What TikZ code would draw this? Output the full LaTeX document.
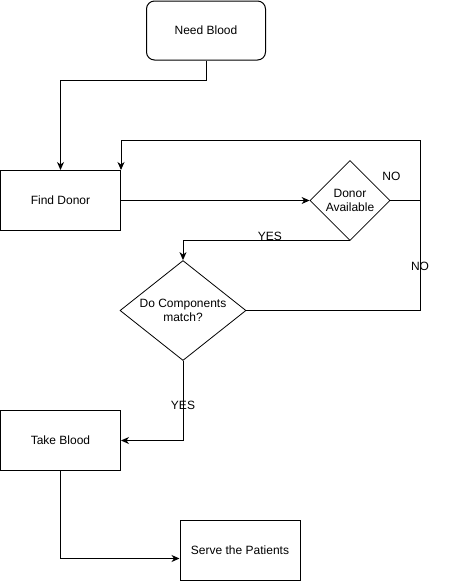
\documentclass[tikz,border=0pt]{standalone}
\usepackage{fontspec}
\setmainfont{Liberation Sans}
\usepackage{tikz}
\usetikzlibrary{shapes}
\usetikzlibrary{arrows,arrows.meta}
\usetikzlibrary{positioning}
\tikzstyle{debutfin}=[rectangle,draw,rounded corners=8pt,line width=1pt,
minimum width=119pt,minimum height=59pt,text=black]
\tikzstyle{instruct}=[rectangle,draw,line width=1pt,fill=white,
minimum width=120pt,minimum height=60pt]
\tikzstyle{test}=[diamond,draw=black,line width=0.8pt,fill=white,text=black,
inner sep=0pt,align=center]
\tikzstyle{suite}=[-{Stealth[length=8pt,width=7pt,inset=2.5pt]},line width=1pt]
\tikzstyle{ligne}=[line width=1pt]
\tikzstyle{etiq}=[inner sep=0pt]

\begin{document}
\begin{tikzpicture}[x=1pt,y=-1pt,font=\fontsize{12}{14.5}\selectfont]
\useasboundingbox (0,0) rectangle (451,581);
\node[debutfin] (need) at (206,30.5) {Need Blood};
\node[instruct] (find) at (60.5,200.5) {Find Donor};
\node[test,minimum width=80pt,minimum height=80pt] (donor) at (350,200.5) {Donor\\Available};
\node[test,minimum width=126pt,minimum height=100pt,aspect=1.26] (match) at (183,310.5) {Do Components\\match?};
\node[instruct] (take) at (60.5,440.5) {Take Blood};
\node[instruct] (serve) at (240,550.5) {Serve the Patients};
\coordinate (junction) at (420,200.5);
\coordinate (looptop) at (420,140.5);
%Placement des fleches
\draw[suite] (need.south) -- ++(0,20) -| (find.north);
\draw[suite] (find.east) -- (donor.west);
\draw[ligne] (donor.east) -- (junction) node[etiq,at start,xshift=1pt,yshift=24pt]{NO};
\draw[suite] (junction) -- (looptop) -| (find.north east);
\draw[suite] (donor.south) -| (match.north) node[etiq,pos=0.24,yshift=5pt]{YES};
\draw[ligne] (match.east) -| (junction) node[etiq,pos=0.7]{NO};
\draw[suite] (match.south) |- (take.east) node[etiq,pos=0.28]{YES};
\draw[suite] (take.south) |- ([yshift=-8pt]serve.west);
\end{tikzpicture}
\end{document}
